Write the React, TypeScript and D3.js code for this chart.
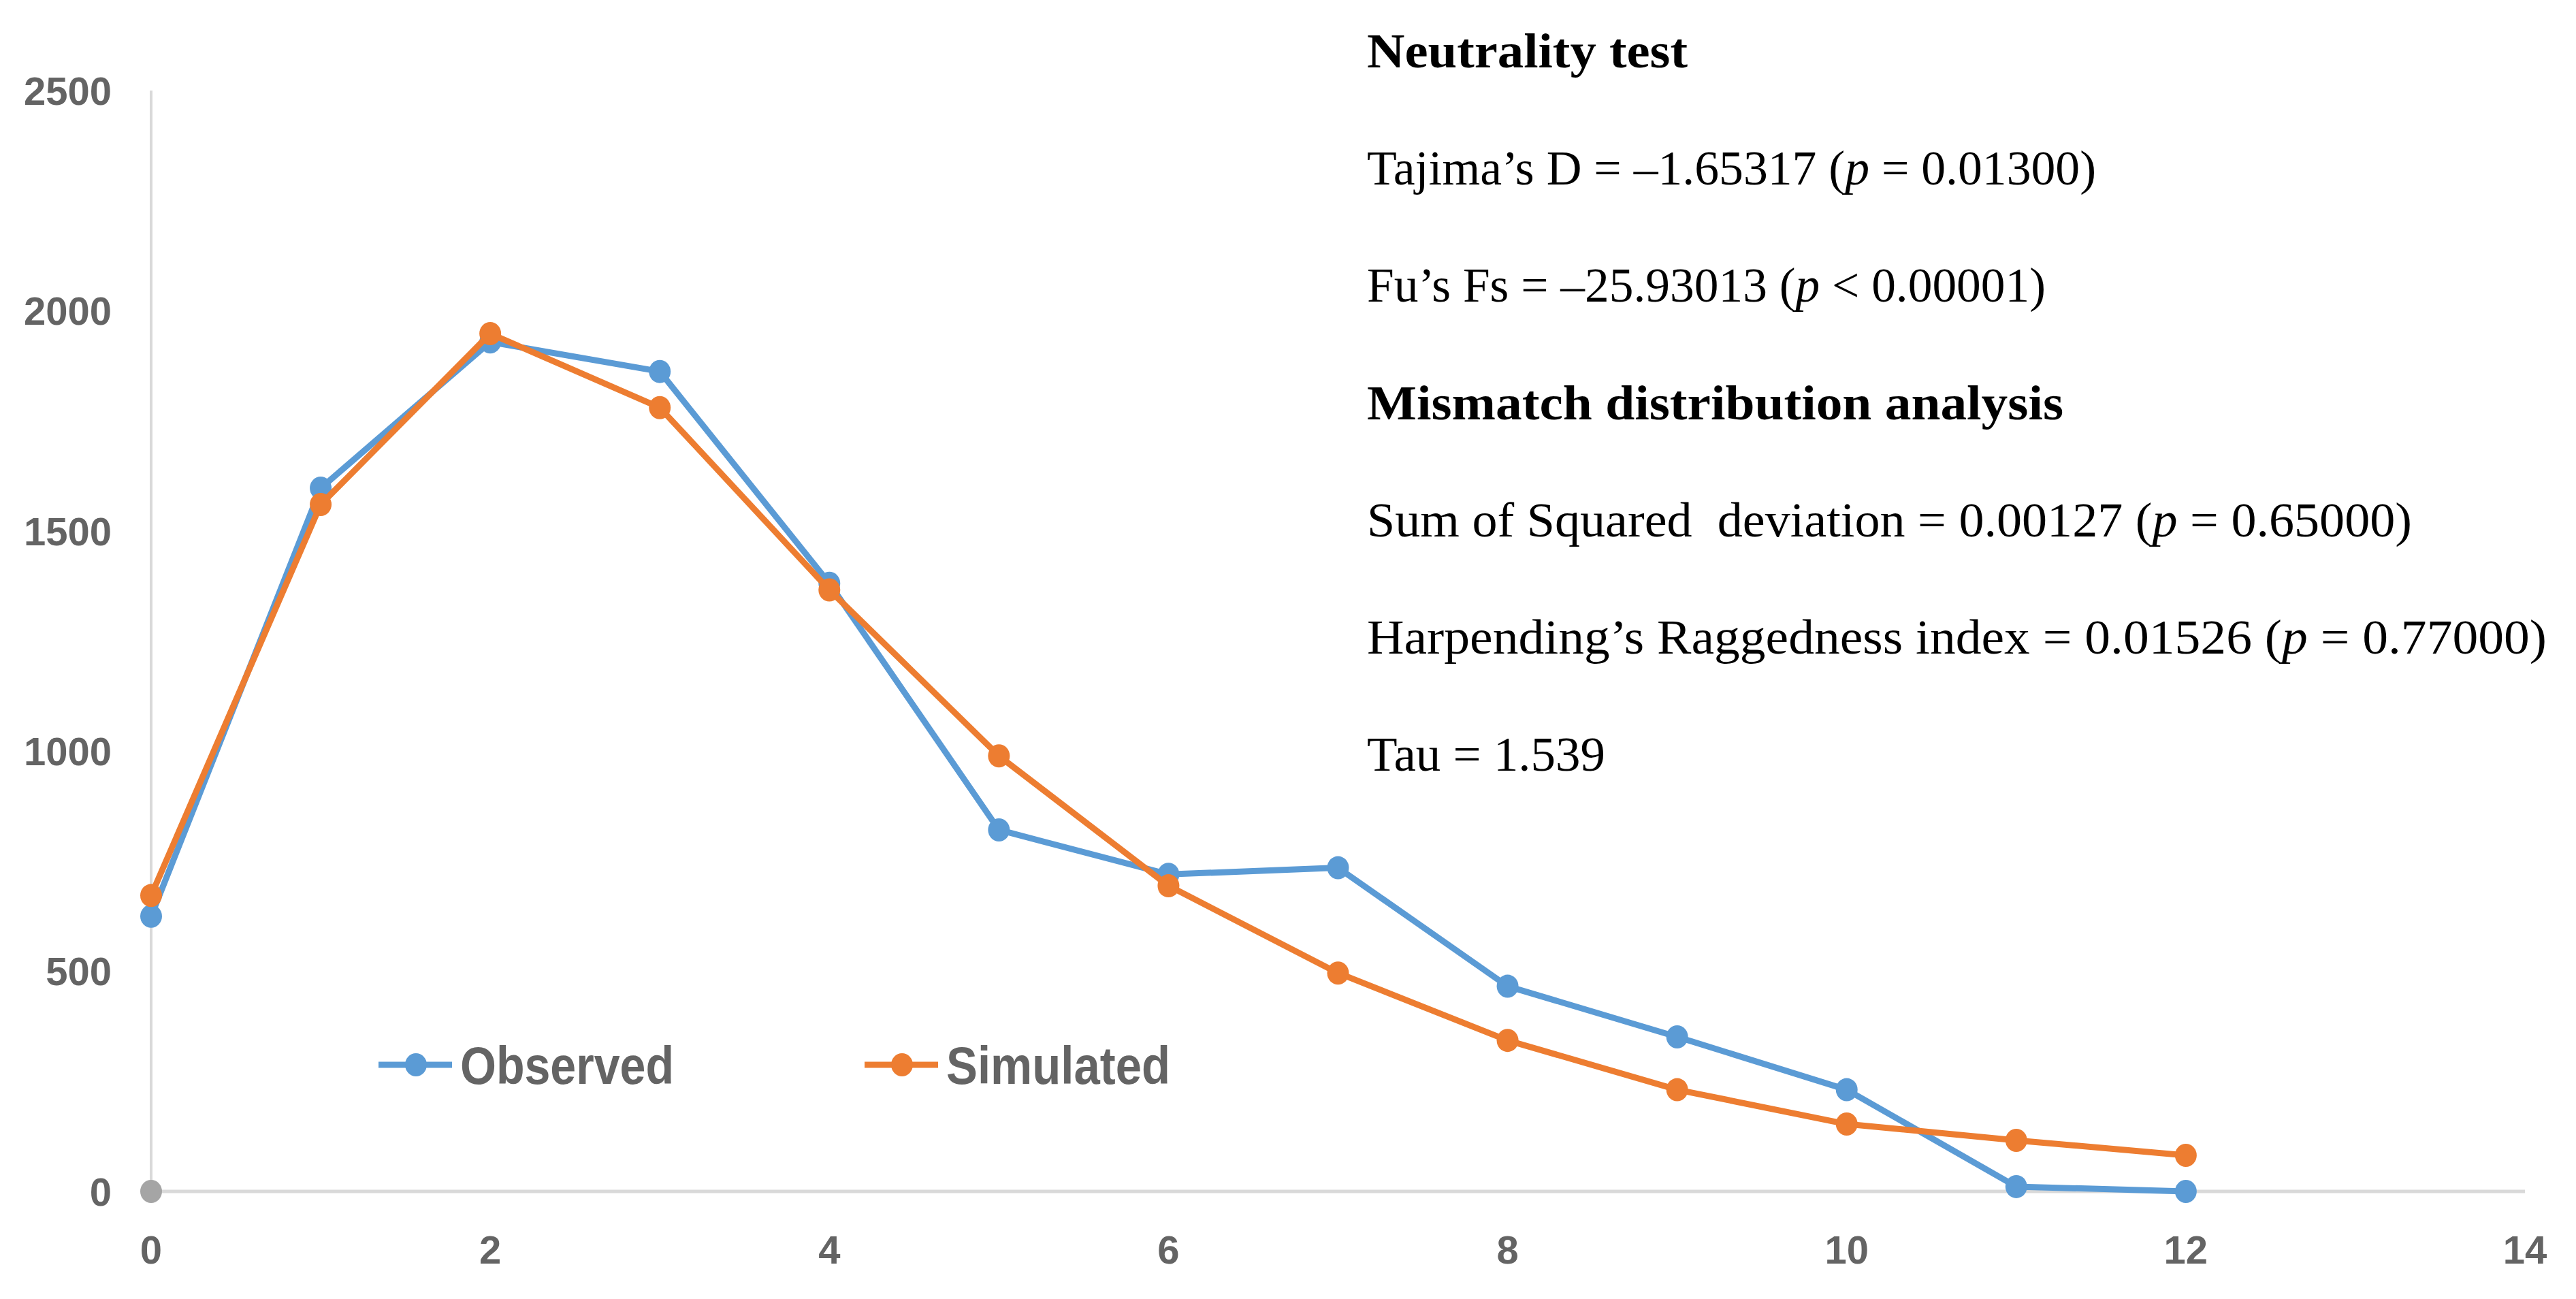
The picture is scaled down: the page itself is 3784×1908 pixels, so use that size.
import React from "react";
import * as d3 from "d3";

const mismatches = [0, 1, 2, 3, 4, 5, 6, 7, 8, 9, 10, 11, 12];
const observed = [625, 1597, 1929, 1862, 1381, 821, 720, 735, 466, 351, 231, 11, 0];
const simulated = [672, 1560, 1948, 1780, 1366, 989, 694, 496, 343, 231, 153, 116, 82];
const extraPoint = [0]; // grey marker at x = 0
const xTicks = [0, 2, 4, 6, 8, 10, 12, 14];
const yTicks = [0, 500, 1000, 1500, 2000, 2500];
const seriesNames = ["Observed", "Simulated"];

type Part = { t: string; i?: boolean };
const statLines: { parts: Part[]; bold?: boolean; w: number }[] = [
  { parts: [{ t: "Neutrality test" }], bold: true, w: 471 },
  { parts: [{ t: "Tajima\u2019s D = \u20131.65317 (" }, { t: "p", i: true }, { t: " = 0.01300)" }], w: 1071 },
  { parts: [{ t: "Fu\u2019s Fs = \u201325.93013 (" }, { t: "p", i: true }, { t: " < 0.00001)" }], w: 997 },
  { parts: [{ t: "Mismatch distribution analysis" }], bold: true, w: 1023 },
  { parts: [{ t: "Sum of Squared  deviation = 0.00127 (" }, { t: "p", i: true }, { t: " = 0.65000)" }], w: 1535 },
  { parts: [{ t: "Harpending\u2019s Raggedness index = 0.01526 (" }, { t: "p", i: true }, { t: " = 0.77000)" }], w: 1733 },
  { parts: [{ t: "Tau = 1.539" }], w: 350 },
];

const W = 3784;
const H = 1908;
const BLUE = "#5B9BD5";
const ORANGE = "#ED7D31";
const GREY = "#A5A5A5";
const AXIS = "#D9D9D9";
const TEXT = "#646464";

export default function App() {
  const x = d3.scaleLinear().domain([0, 14]).range([222, 3709]);
  const y = d3.scaleLinear().domain([0, 2500]).range([1750, 133]);
  const line = d3
    .line<number>()
    .x((_, i) => x(mismatches[i]))
    .y((d) => y(d));

  const series = [
    { name: seriesNames[0], values: observed, color: BLUE },
    { name: seriesNames[1], values: simulated, color: ORANGE },
  ];
  const legendX = [611, 1325];
  const legendW = [314, 329];
  const legendY = 1564;
  const RX = 16;
  const RY = 17;

  return (
    <svg
      width={W}
      height={H}
      viewBox={`0 0 ${W} ${H}`}
      style={{ position: "absolute", left: 0, top: 0, background: "#fff" }}
    >
      <rect width={W} height={H} fill="#fff" />
      {/* axes */}
      <line x1={x(0)} x2={x(0)} y1={y(2500)} y2={y(0)} stroke={AXIS} strokeWidth={4} />
      <line x1={x(0)} x2={x(14)} y1={y(0)} y2={y(0)} stroke={AXIS} strokeWidth={5} />
      {/* y tick labels */}
      {yTicks.map((t) => (
        <text
          key={"y" + t}
          x={164}
          y={y(t)}
          dy="0.36em"
          textAnchor="end"
          fontFamily="'Liberation Sans', Arial, sans-serif"
          fontWeight="bold"
          fontSize={58}
          fill={TEXT}
        >
          {t}
        </text>
      ))}
      {/* x tick labels */}
      {xTicks.map((t) => (
        <text
          key={"x" + t}
          x={x(t)}
          y={1856}
          textAnchor="middle"
          fontFamily="'Liberation Sans', Arial, sans-serif"
          fontWeight="bold"
          fontSize={58}
          fill={TEXT}
        >
          {t}
        </text>
      ))}
      {/* series */}
      {series.map((s) => (
        <g key={s.name}>
          <path d={line(s.values) || ""} fill="none" stroke={s.color} strokeWidth={9} strokeLinejoin="round" />
          {s.values.map((v, i) => (
            <ellipse key={i} cx={x(mismatches[i])} cy={y(v)} rx={RX} ry={RY} fill={s.color} />
          ))}
        </g>
      ))}
      {extraPoint.map((v, i) => (
        <ellipse key={"g" + i} cx={x(0)} cy={y(v)} rx={RX} ry={RY} fill={GREY} />
      ))}
      {/* legend */}
      {series.map((s, i) => (
        <g key={"leg" + s.name}>
          <line x1={legendX[i] - 55} x2={legendX[i] + 53} y1={legendY} y2={legendY} stroke={s.color} strokeWidth={9} />
          <ellipse cx={legendX[i]} cy={legendY} rx={RX} ry={RY} fill={s.color} />
          <text
            x={legendX[i] + 65}
            y={legendY}
            dy="0.36em"
            fontFamily="'Liberation Sans', Arial, sans-serif"
            fontWeight="bold"
            fontSize={78}
            fill={TEXT}
            textLength={legendW[i]}
            lengthAdjust="spacingAndGlyphs"
          >
            {s.name}
          </text>
        </g>
      ))}
      {/* statistics text */}
      {statLines.map((l, i) => (
        <text
          key={"s" + i}
          x={2008}
          y={99 + i * 172.2}
          fontFamily="'Liberation Serif', 'Times New Roman', serif"
          fontWeight={l.bold ? "bold" : "normal"}
          fontSize={71}
          fill="#000"
          textLength={l.w}
          lengthAdjust="spacingAndGlyphs"
          style={{ whiteSpace: "pre" }}
        >
          {l.parts.map((p, j) => (
            <tspan key={j} fontStyle={p.i ? "italic" : "normal"}>
              {p.t}
            </tspan>
          ))}
        </text>
      ))}
    </svg>
  );
}
